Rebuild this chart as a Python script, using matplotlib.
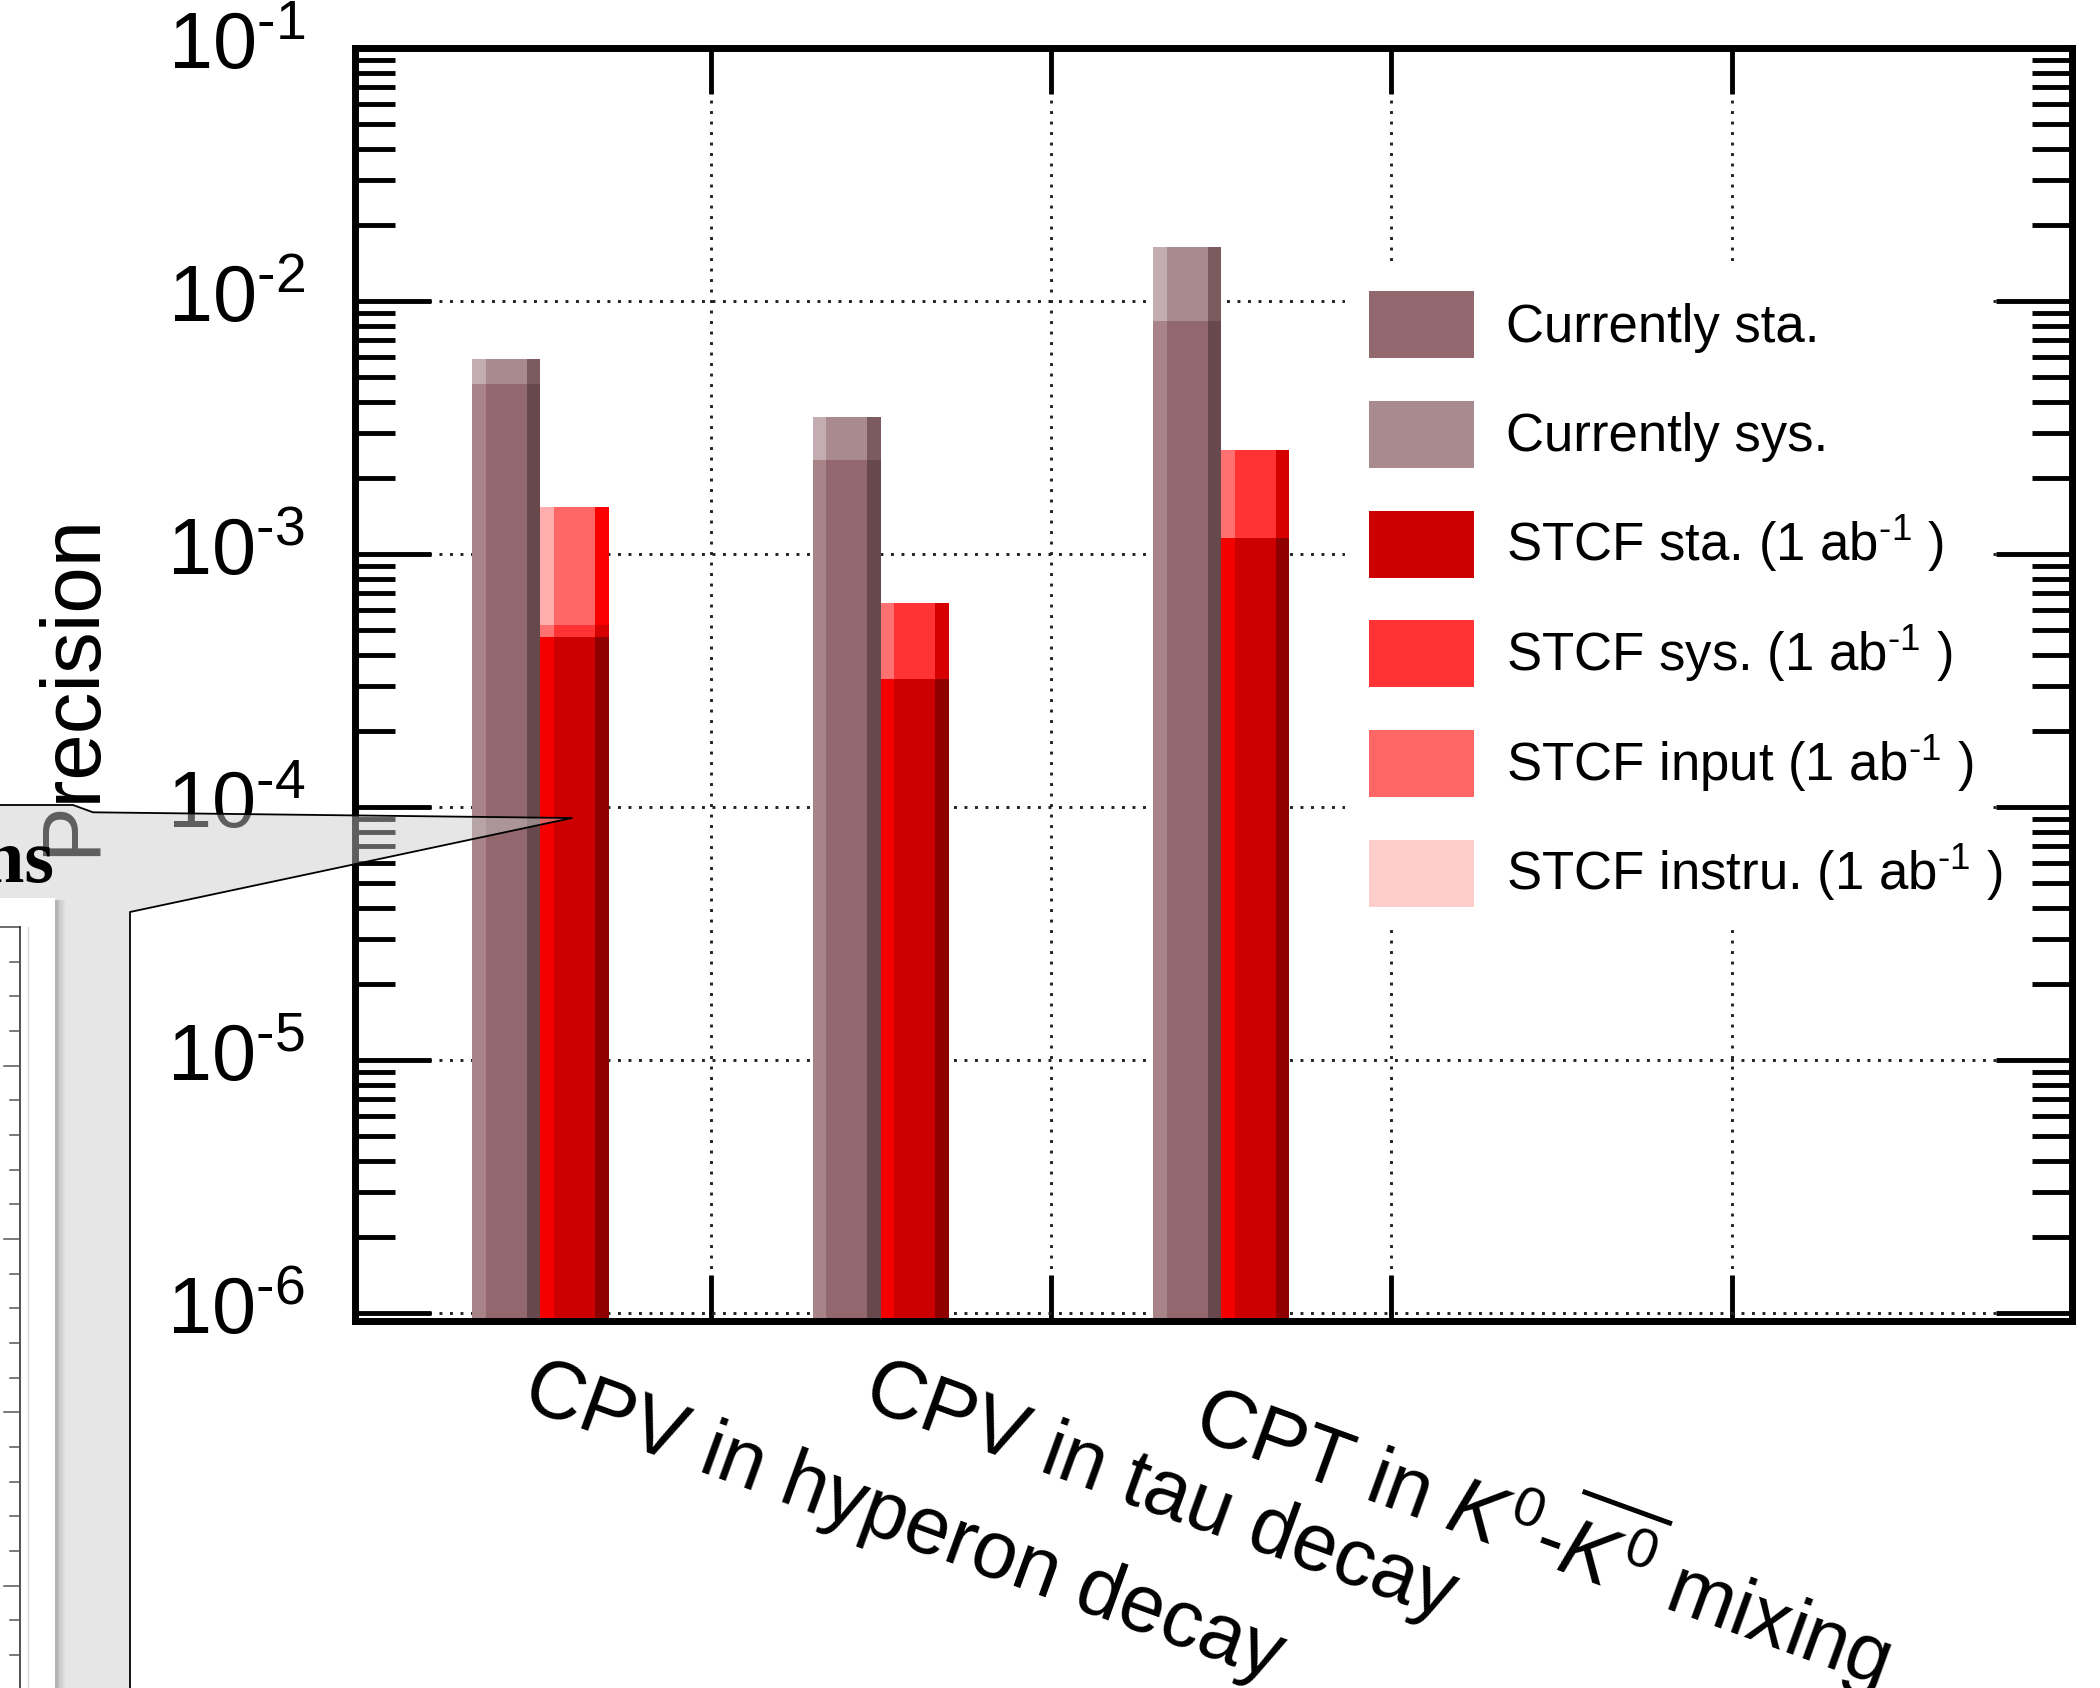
import colorsys
import numpy as np
import matplotlib.pyplot as plt
import matplotlib.colors as mcolors
from matplotlib.patches import Polygon, Rectangle
from matplotlib.lines import Line2D
from matplotlib.ticker import LogLocator, NullFormatter

plt.rcParams['font.family'] = ['Liberation Sans', 'DejaVu Sans']
plt.rcParams['mathtext.fontset'] = 'custom'
plt.rcParams['mathtext.rm'] = 'Liberation Sans'
plt.rcParams['mathtext.it'] = 'Liberation Sans:italic'
plt.rcParams['mathtext.bf'] = 'Liberation Sans:bold'

# bins (two last bins are empty in the original canvas)
categories = ["CPV in hyperon decay", "CPV in tau decay",
              r"CPT in $K^{\mathit{0}}$-$\overline{K^{\mathit{0}}}$ mixing", "", ""]

# drawn bar heights, one layer over the other
cur_sys = [5.9e-3, 3.47e-3, 1.63e-2, 0, 0]
cur_sta = [4.7e-3, 2.36e-3, 8.3e-3, 0, 0]
stcf_input = [1.53e-3, 0, 0, 0, 0]
stcf_sys = [5.25e-4, 6.4e-4, 2.58e-3, 0, 0]
stcf_sta = [4.7e-4, 3.2e-4, 1.16e-3, 0, 0]

legend_labels = ["Currently sta.", "Currently sys.",
                 r"STCF sta. (1 ab$^{\text{-1}}$ )", r"STCF sys. (1 ab$^{\text{-1}}$ )",
                 r"STCF input (1 ab$^{\text{-1}}$ )", r"STCF instru. (1 ab$^{\text{-1}}$ )"]
legend_colors = ['#93676e', '#a98a8e', '#cc0000', '#ff3333', '#ff6666', '#ffcccc']

ytick_vals = [1e-6, 1e-5, 1e-4, 1e-3, 1e-2, 1e-1]
ytick_labels = [r'$10^{\text{-6}}$', r'$10^{\text{-5}}$', r'$10^{\text{-4}}$',
                r'$10^{\text{-3}}$', r'$10^{\text{-2}}$', r'$10^{\text{-1}}$']


def shades(c):
    # ROOT style bar: bright left strip, dark right strip
    r, g, b = mcolors.to_rgb(c)
    h, l, s = colorsys.rgb_to_hls(r, g, b)
    bright = colorsys.hls_to_rgb(h, min(1.0, l * 1.2), s)
    dark = colorsys.hls_to_rgb(h, l * 0.7, s)
    return bright, c, dark


def shaded_bar(ax, x0, heights, width, color):
    bright, main, dark = shades(color)
    ax.bar(x0, heights, 0.2 * width, align='edge', color=bright, lw=0, zorder=2)
    ax.bar(x0 + 0.2 * width, heights, 0.6 * width, align='edge', color=main, lw=0, zorder=2)
    ax.bar(x0 + 0.8 * width, heights, 0.2 * width, align='edge', color=dark, lw=0, zorder=2)


fig = plt.figure(figsize=(21, 16.88), dpi=100)
ax = fig.add_axes([355 / 2100, 1 - 1321 / 1688, 1717 / 2100, 1273 / 1688])

bins = np.arange(len(categories))
w = 0.2
shaded_bar(ax, bins + 0.30, cur_sys, w, legend_colors[1])
shaded_bar(ax, bins + 0.30, cur_sta, w, legend_colors[0])
shaded_bar(ax, bins + 0.50, stcf_input, w, legend_colors[4])
shaded_bar(ax, bins + 0.50, stcf_sys, w, legend_colors[3])
shaded_bar(ax, bins + 0.50, stcf_sta, w, legend_colors[2])

ax.set_yscale('log')
ax.set_ylim(0.93e-6, 0.1)
ax.set_xlim(-0.045, 5.0)

ax.set_yticks(ytick_vals, labels=ytick_labels)
ax.yaxis.set_minor_locator(LogLocator(base=10, subs=np.arange(2, 10), numticks=30))
ax.yaxis.set_minor_formatter(NullFormatter())
ax.set_xticks([1, 2, 3, 4], labels=[''] * 4)
ax.set_xticks(bins + 0.5, labels=categories, minor=True)

ax.tick_params(axis='x', which='major', direction='in', length=33, width=3.5,
               top=True, bottom=True)
ax.tick_params(axis='x', which='minor', length=0, pad=21, labelsize=58,
               top=False, bottom=True)
ax.tick_params(axis='y', which='major', direction='in', length=55, width=3.5,
               left=True, right=True, pad=36, labelsize=57)
ax.tick_params(axis='y', which='minor', direction='in', length=29, width=3.5,
               left=True, right=True)
for lab in ax.get_xticklabels(minor=True):
    lab.set_rotation(-20)
    lab.set_rotation_mode('anchor')
    lab.set_ha('left')
    lab.set_va('top')
for lab in ax.get_yticklabels():
    lab.set_va('center')

for sp in ax.spines.values():
    sp.set_linewidth(5)

ax.set_axisbelow(True)
ax.grid(which='major', ls=(0, (1, 2.6)), lw=2.1, color='#222222')

ax.set_ylabel('Precision', fontsize=60)
ax.yaxis.set_label_coords(-0.142, 0.5)

# legend (ROOT TLegend, white fill, no border)
ax.add_patch(Rectangle((0.5766, 0.309), 0.3754, 0.521, transform=ax.transAxes,
                       facecolor='white', edgecolor='none', zorder=3))
for i, (lab, col) in enumerate(zip(legend_labels, legend_colors)):
    yc = (1321 - (325.5 + i * 109.6)) / 1272
    ax.add_patch(Rectangle((0.5906, yc - 0.0264), 0.0611, 0.0527, transform=ax.transAxes,
                           facecolor=col, edgecolor='none', zorder=4))
    ax.text(0.6703, yc - 0.0134, lab, transform=ax.transAxes, fontsize=38,
            ha='left', va='baseline', zorder=4)


# callout overlay on the left side of the picture
def px(x, y):
    return (x / 2100, 1 - y / 1688)


outline = [(0, 805), (73, 805), (93, 812.3), (572, 818), (130, 912), (130, 1688)]
fig.add_artist(Polygon([px(*p) for p in outline + [(0, 1688)]], closed=True,
                       transform=fig.transFigure, facecolor=(0.792, 0.792, 0.792),
                       alpha=0.47, edgecolor='none', zorder=10))
for i, c in enumerate(['#b4b4b4', '#c4c4c4', '#d2d2d2', '#dddddd']):
    fig.add_artist(Rectangle(px(55 + 2.5 * i, 1688), 2.5 / 2100, (1688 - 900) / 1688,
                             transform=fig.transFigure, facecolor=c, edgecolor='none',
                             zorder=11))
fig.add_artist(Rectangle(px(0, 1688), 55 / 2100, (1688 - 898) / 1688,
                         transform=fig.transFigure, facecolor='white',
                         edgecolor='none', zorder=11))
xs, ys = zip(*[px(*p) for p in outline])
fig.add_artist(Line2D(xs, ys, transform=fig.transFigure, color='black', lw=1.3, zorder=12))

# small panel inside the white box
fig.add_artist(Line2D([0, 20 / 2100], [px(0, 927)[1]] * 2, transform=fig.transFigure,
                      color='#444444', lw=1.1, zorder=12))
fig.add_artist(Line2D([20 / 2100] * 2, [px(0, 927)[1], 0], transform=fig.transFigure,
                      color='#222222', lw=1.1, zorder=12))
fig.add_artist(Line2D([28 / 2100] * 2, [px(0, 927)[1], 0], transform=fig.transFigure,
                      color='#d6d6d6', lw=1.0, zorder=12))
for k in range(21):
    yk = 961.7 + 34.66 * k
    x_start = 4 if k % 5 == 3 else 10
    fig.add_artist(Line2D([x_start / 2100, 20 / 2100], [px(0, yk)[1]] * 2,
                          transform=fig.transFigure, color='#555555', lw=1.1, zorder=12))

fig.text(54 / 2100, px(0, 882)[1], 'ns', fontfamily='Liberation Serif',
         fontweight='bold', fontsize=55, ha='right', va='baseline', zorder=13)

fig.savefig('out.png', dpi=100)
